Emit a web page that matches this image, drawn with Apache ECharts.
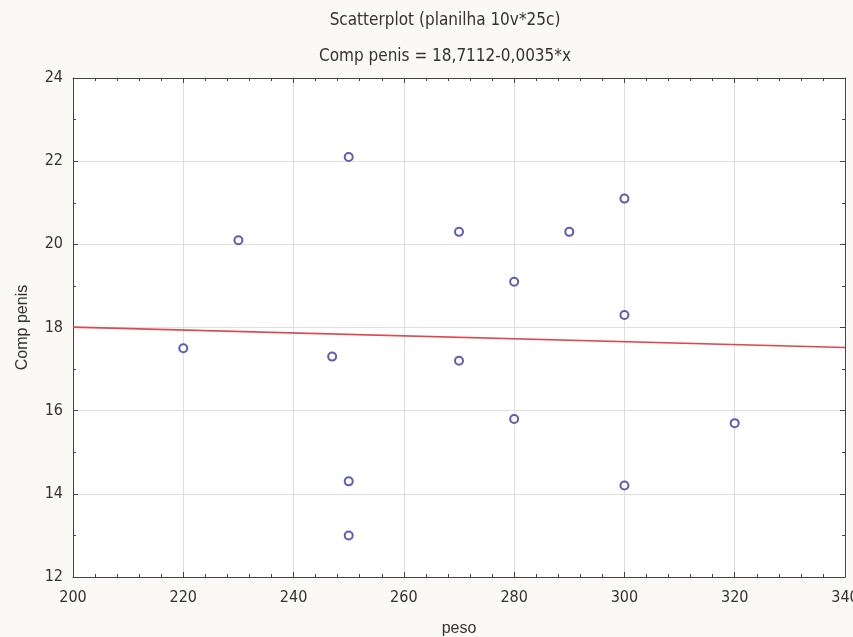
<!DOCTYPE html>
<html lang="pt">
  <head>
    <meta charset="UTF-8" />
    <title>Scatterplot</title>
    <style>
      html, body { margin: 0; padding: 0; background: #fbf9f6; }
      #main { width: 853px; height: 637px; }
    </style>
    <script src="https://cdn.jsdelivr.net/npm/echarts@6/dist/echarts.min.js"></script>
  </head>
  <body>
    <div id="main"></div>
    <script>
      // dados
      const peso = [220, 230, 247, 250, 250, 250, 270, 270, 280, 280, 290, 300, 300, 300, 320]
      const compPenis = [17.5, 20.1, 17.3, 22.1, 14.3, 13.0, 20.3, 17.2, 19.1, 15.8, 20.3, 21.1, 18.3, 14.2, 15.7]
      // reta de regressão nas bordas do eixo (18,7112-0,0035*x)
      const fitLine = [[200, 18.01], [340, 17.52]]
      const xTicks = [200, 220, 240, 260, 280, 300, 320, 340]
      const yTicks = [12, 14, 16, 18, 20, 22, 24]

      const narrow = '"DejaVu Sans Condensed", "Liberation Sans Narrow", "Liberation Sans", sans-serif'
      const plain = '"Liberation Sans", Arial, sans-serif'
      const txt = '#333'

      const points = peso.map((x, i) => [x, compPenis[i]])

      const baseX = {
        type: 'value',
        min: xTicks[0],
        max: xTicks[xTicks.length - 1],
        interval: 20,
        axisLine: { show: true, onZero: false, lineStyle: { color: '#444', width: 1 } },
        axisTick: { show: true, inside: true, length: 5, lineStyle: { color: '#444' } },
        minorTick: { show: true, splitNumber: 5, length: 3, lineStyle: { color: '#444' } },
        splitLine: { show: false }
      }
      const baseY = {
        type: 'value',
        min: yTicks[0],
        max: yTicks[yTicks.length - 1],
        interval: 2,
        axisLine: { show: true, onZero: false, lineStyle: { color: '#444', width: 1 } },
        axisTick: { show: true, inside: true, length: 5, lineStyle: { color: '#444' } },
        minorTick: { show: true, splitNumber: 2, length: 3, lineStyle: { color: '#444' } },
        splitLine: { show: false }
      }

      const chart = echarts.init(document.getElementById('main'))
      chart.setOption({
        backgroundColor: '#fbf9f6',
        animation: false,
        textStyle: { fontFamily: narrow },
        title: [
          {
            text: 'Scatterplot (planilha 10v*25c)',
            left: 440, top: 7, textAlign: 'center',
            textStyle: { fontFamily: narrow, fontSize: 17, fontWeight: 'normal', color: txt }
          },
          {
            text: 'Comp penis = 18,7112-0,0035*x',
            left: 440, top: 43, textAlign: 'center',
            textStyle: { fontFamily: narrow, fontSize: 17, fontWeight: 'normal', color: txt }
          }
        ],
        grid: {
          left: 73, right: 8, top: 78, bottom: 60,
          outerBoundsMode: 'none',
          containLabel: false,
          show: true, backgroundColor: '#ffffff', borderWidth: 0
        },
        xAxis: [
          Object.assign({}, baseX, {
            position: 'bottom',
            name: 'peso',
            nameLocation: 'middle',
            nameGap: 44,
            nameTextStyle: { fontFamily: plain, fontSize: 16, color: txt },
            axisLabel: { fontFamily: narrow, fontSize: 16, color: txt, margin: 13 },
            splitLine: { show: true, lineStyle: { color: '#dedede', width: 1 } }
          }),
          Object.assign({}, baseX, { position: 'top', axisLabel: { show: false } })
        ],
        yAxis: [
          Object.assign({}, baseY, {
            position: 'left',
            name: 'Comp penis',
            nameLocation: 'middle',
            nameGap: 42,
            nameTextStyle: { fontFamily: plain, fontSize: 16, color: txt },
            axisLabel: { fontFamily: narrow, fontSize: 16, color: txt, margin: 10 },
            splitLine: { show: true, lineStyle: { color: '#dedede', width: 1 } }
          }),
          Object.assign({}, baseY, { position: 'right', axisLabel: { show: false } })
        ],
        series: [
          {
            name: 'reta',
            type: 'line',
            data: fitLine,
            symbol: 'none',
            lineStyle: { color: '#e0474c', width: 1.6 },
            z: 2
          },
          {
            name: 'pontos',
            type: 'scatter',
            data: points,
            symbol: 'circle',
            symbolSize: 8,
            itemStyle: { color: '#ffffff', borderColor: '#3535a6', borderWidth: 2 },
            z: 3
          }
        ]
      })
    </script>
  </body>
</html>
